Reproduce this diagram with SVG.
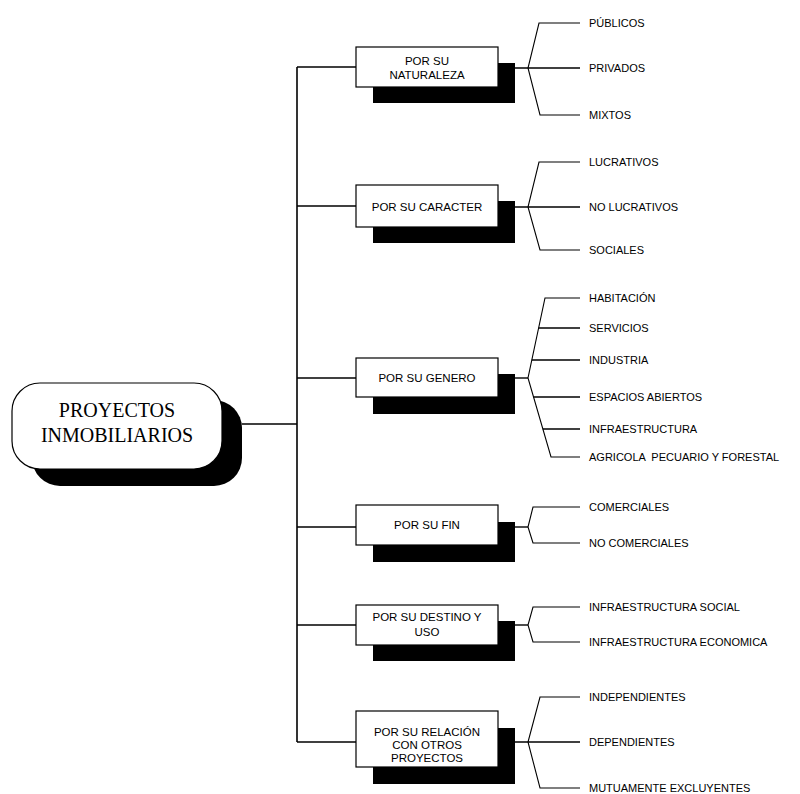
<svg xmlns="http://www.w3.org/2000/svg" width="800" height="794" viewBox="0 0 800 794">
  <style>
    .bg { fill: #ffffff; }
    .shadow { fill: #000000; }
    .box { fill: #ffffff; stroke: #000000; stroke-width: 1.2; }
    .wire { fill: none; stroke: #000000; stroke-width: 1.6; }
    .brace { fill: none; stroke: #000000; stroke-width: 1.1; stroke-linejoin: miter; }
    .tick { fill: none; stroke: #000000; stroke-width: 1.4; }
    .root-text { font-family: "Liberation Serif", "Times New Roman", serif; font-size: 20px; fill: #000000; text-anchor: middle; }
    .cat-text { font-family: "Liberation Sans", Arial, sans-serif; font-size: 11.5px; fill: #000000; text-anchor: middle; }
    .leaf-text { font-family: "Liberation Sans", Arial, sans-serif; font-size: 11px; fill: #000000; white-space: pre; }
  </style>

  <rect class="bg" x="0" y="0" width="800" height="794"/>

  <!-- connectors: trunk, stubs to category boxes, braces to leaves -->
  <g id="connectors">
    <line class="wire" x1="242" y1="424" x2="297" y2="424"/>
    <line class="wire" x1="297" y1="67" x2="297" y2="742"/>
    <line class="wire" x1="297" y1="67" x2="356" y2="67"/>
    <line class="wire" x1="297" y1="206" x2="356" y2="206"/>
    <line class="wire" x1="297" y1="378" x2="356" y2="378"/>
    <line class="wire" x1="297" y1="527" x2="356" y2="527"/>
    <line class="wire" x1="297" y1="625" x2="356" y2="625"/>
    <line class="wire" x1="297" y1="742" x2="356" y2="742"/>

    <!-- naturaleza -->
    <line class="tick" x1="515" y1="68" x2="580" y2="68"/>
    <polyline class="brace" points="580,23 539,23 528,68 540,115 580,115"/>
    <!-- caracter -->
    <line class="tick" x1="515" y1="207" x2="580" y2="207"/>
    <polyline class="brace" points="580,162 539,162 528,207 540,250 580,250"/>
    <!-- genero -->
    <line class="tick" x1="515" y1="378" x2="528" y2="378"/>
    <polyline class="brace" points="580,298 545,298 528,378 551,457 580,457"/>
    <line class="tick" x1="538.6" y1="328" x2="580" y2="328"/>
    <line class="tick" x1="531.8" y1="360" x2="580" y2="360"/>
    <line class="tick" x1="533.5" y1="397" x2="580" y2="397"/>
    <line class="tick" x1="542.8" y1="429" x2="580" y2="429"/>
    <!-- fin -->
    <line class="tick" x1="515" y1="527" x2="528" y2="527"/>
    <polyline class="brace" points="580,507 533,507 528,527 533,543 580,543"/>
    <!-- destino y uso -->
    <line class="tick" x1="515" y1="625" x2="528" y2="625"/>
    <polyline class="brace" points="580,607 533,607 528,625 533,642 580,642"/>
    <!-- relacion -->
    <line class="tick" x1="515" y1="742" x2="580" y2="742"/>
    <polyline class="brace" points="580,697 540,697 528,742 540,788 580,788"/>
  </g>

  <!-- root node -->
  <g id="root">
    <rect class="shadow" x="32" y="400" width="210" height="86" rx="28"/>
    <rect class="box" x="12" y="383" width="210" height="86" rx="28" stroke-width="1.5"/>
    <text class="root-text" x="117" y="417">PROYECTOS</text>
    <text class="root-text" x="117" y="442">INMOBILIARIOS</text>
  </g>

  <g id="cat-naturaleza">
    <rect class="shadow" x="373" y="63" width="142" height="40"/>
    <rect class="box" x="356" y="47" width="142" height="40"/>
    <text class="cat-text" x="427" y="65">POR SU</text>
    <text class="cat-text" x="427" y="79">NATURALEZA</text>
  </g>

  <g id="cat-caracter">
    <rect class="shadow" x="373" y="201" width="142" height="42"/>
    <rect class="box" x="356" y="185" width="142" height="42"/>
    <text class="cat-text" x="427" y="211">POR SU CARACTER</text>
  </g>

  <g id="cat-genero">
    <rect class="shadow" x="373" y="374" width="142" height="40"/>
    <rect class="box" x="356" y="358" width="142" height="39"/>
    <text class="cat-text" x="427" y="382">POR SU GENERO</text>
  </g>

  <g id="cat-fin">
    <rect class="shadow" x="373" y="522" width="142" height="40"/>
    <rect class="box" x="356" y="505" width="142" height="40"/>
    <text class="cat-text" x="427" y="529">POR SU FIN</text>
  </g>

  <g id="cat-destino">
    <rect class="shadow" x="373" y="621" width="142" height="40"/>
    <rect class="box" x="356" y="605" width="142" height="40"/>
    <text class="cat-text" x="427" y="621">POR SU DESTINO Y</text>
    <text class="cat-text" x="427" y="636">USO</text>
  </g>

  <g id="cat-relacion">
    <rect class="shadow" x="373" y="728" width="142" height="56"/>
    <rect class="box" x="356" y="711" width="142" height="56"/>
    <text class="cat-text" x="427" y="736">POR SU RELACIÓN</text>
    <text class="cat-text" x="427" y="749">CON OTROS</text>
    <text class="cat-text" x="427" y="762">PROYECTOS</text>
  </g>

  <!-- leaf labels -->
  <g id="leaves-naturaleza">
    <text class="leaf-text" x="589" y="27">PÚBLICOS</text>
    <text class="leaf-text" x="589" y="72">PRIVADOS</text>
    <text class="leaf-text" x="589" y="119">MIXTOS</text>
  </g>
  <g id="leaves-caracter">
    <text class="leaf-text" x="589" y="166">LUCRATIVOS</text>
    <text class="leaf-text" x="589" y="211">NO LUCRATIVOS</text>
    <text class="leaf-text" x="589" y="254">SOCIALES</text>
  </g>
  <g id="leaves-genero">
    <text class="leaf-text" x="589" y="302">HABITACIÓN</text>
    <text class="leaf-text" x="589" y="332">SERVICIOS</text>
    <text class="leaf-text" x="589" y="364">INDUSTRIA</text>
    <text class="leaf-text" x="589" y="401">ESPACIOS ABIERTOS</text>
    <text class="leaf-text" x="589" y="433">INFRAESTRUCTURA</text>
    <text class="leaf-text" x="589" y="461">AGRICOLA  PECUARIO Y FORESTAL</text>
  </g>
  <g id="leaves-fin">
    <text class="leaf-text" x="589" y="511">COMERCIALES</text>
    <text class="leaf-text" x="589" y="547">NO COMERCIALES</text>
  </g>
  <g id="leaves-destino">
    <text class="leaf-text" x="589" y="611">INFRAESTRUCTURA SOCIAL</text>
    <text class="leaf-text" x="589" y="646">INFRAESTRUCTURA ECONOMICA</text>
  </g>
  <g id="leaves-relacion">
    <text class="leaf-text" x="589" y="701">INDEPENDIENTES</text>
    <text class="leaf-text" x="589" y="746">DEPENDIENTES</text>
    <text class="leaf-text" x="589" y="792">MUTUAMENTE EXCLUYENTES</text>
  </g>
</svg>
